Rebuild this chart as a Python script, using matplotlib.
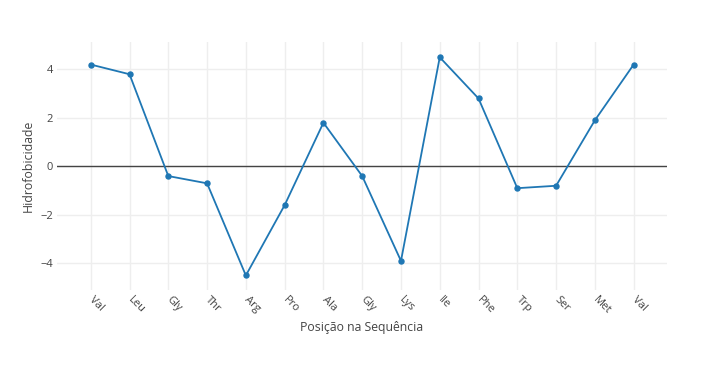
import matplotlib
matplotlib.use("Agg")
import matplotlib.pyplot as plt

# amino acid sequence and Kyte-Doolittle hydrophobicity values
residues = ["Val", "Leu", "Gly", "Thr", "Arg", "Pro", "Ala", "Gly",
            "Lys", "Ile", "Phe", "Trp", "Ser", "Met", "Val"]
hydro = [4.2, 3.8, -0.4, -0.7, -4.5, -1.6, 1.8, -0.4,
         -3.9, 4.5, 2.8, -0.9, -0.8, 1.9, 4.2]
y_ticks = [-4, -2, 0, 2, 4]

plt.rcParams["font.family"] = ["Open Sans", "DejaVu Sans"]
txt = "#444444"

fig = plt.figure(figsize=(7.21, 3.69), dpi=100)
ax = fig.add_axes([57 / 721, 79 / 369, 610 / 721, 248 / 369])

pos = list(range(len(residues)))
ax.plot(pos, hydro, color="#1f77b4", lw=1.3, marker="o", ms=3.6, zorder=3)
ax.axhline(0, color=txt, lw=1, zorder=2)

ax.set_xlim(-0.87, len(residues) - 1 + 0.86)
ax.set_ylim(-5.1, 5.13)
ax.set_xticks(pos)
ax.set_xticklabels(residues, rotation=-45, ha="left", va="center",
                   rotation_mode="anchor", fontsize=8, color=txt)
ax.set_yticks(y_ticks)
ax.set_yticklabels([str(v).replace("-", "\u2212") for v in y_ticks],
                   fontsize=8, color=txt)
ax.tick_params(axis="x", length=0, pad=6)
ax.tick_params(axis="y", length=0, pad=3)

ax.grid(True, color="#eeeeee", lw=1, zorder=0)
for s in ax.spines.values():
    s.set_visible(False)

ax.set_xlabel("Posição na Sequência", fontsize=8.8, color=txt, labelpad=3)
ax.set_ylabel("Hidrofobicidade", fontsize=8.8, color=txt, labelpad=4)

fig.savefig("out.png", dpi=100)
